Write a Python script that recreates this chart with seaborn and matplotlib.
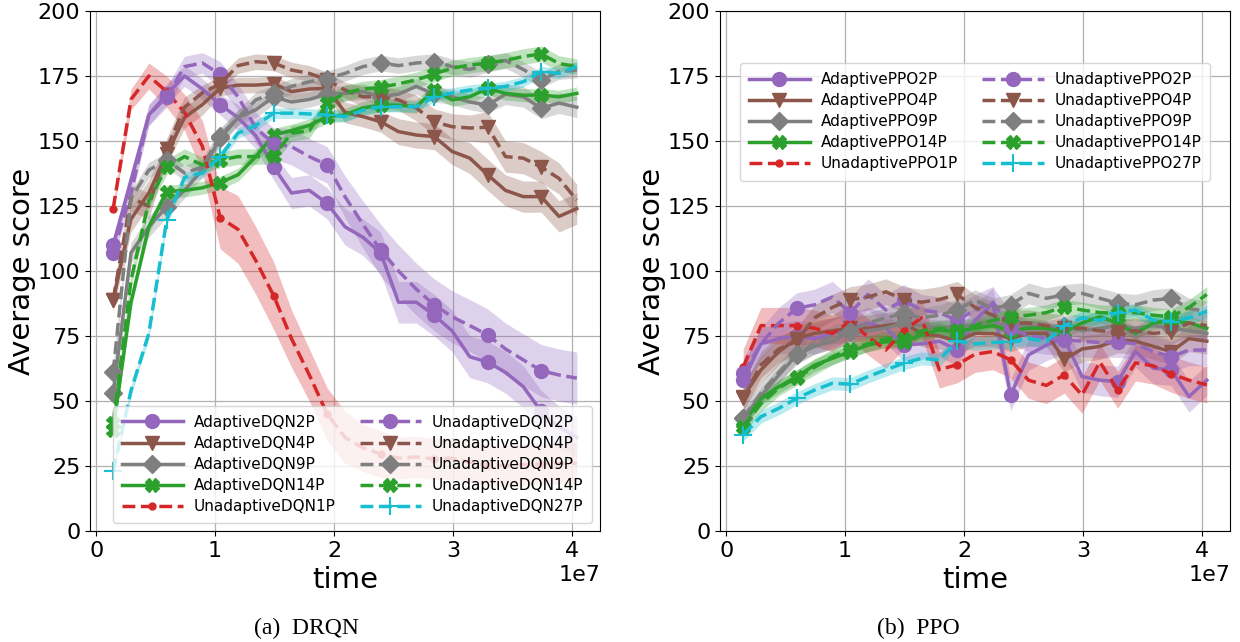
import numpy as np
import matplotlib
matplotlib.use("Agg")
import matplotlib.pyplot as plt
import seaborn as sns

# ---------------- data ----------------
time_m = [1.43, 2.93, 4.43, 5.93, 7.43, 8.93, 10.43, 11.93, 13.43, 14.93, 16.43, 17.93, 19.43,
          20.93, 22.43, 23.93, 25.43, 26.93, 28.43, 29.93, 31.43, 32.93, 34.43, 35.93, 37.43,
          38.93, 40.43]

# DRQN panel
dqn_A2 = [110, 135, 160, 168, 175, 170, 164, 159, 152, 140, 130, 131, 126, 117, 113, 107, 88, 88,
          83, 77, 67, 65, 61, 55.5, 46, 40, 36]
dqn_A4 = [89, 120, 130, 145, 159, 164, 170.3, 171.5, 171.5, 172, 169, 170, 170.3, 161, 159.4,
          157.4, 153.6, 152.3, 151.7, 146, 143.4, 137, 131, 128.6, 128.6, 121, 124]
dqn_A9 = [53, 107, 117, 124.7, 131, 139, 151, 159, 162, 167, 165, 166, 168, 168.3, 169, 167, 168,
          171, 168, 167, 165, 163.8, 168, 167, 162.6, 164.6, 163]
dqn_A14 = [39, 88, 117, 130.5, 131, 132, 134, 137, 144, 152.3, 154, 156, 159.4, 160, 162.7, 163.8,
           163.8, 163.2, 169.6, 165.8, 167, 170.3, 168.3, 167.6, 167.7, 167, 168.3]
dqn_U1 = [124, 166, 175, 169, 161, 148, 120.5, 116, 104, 90.5, 74, 60, 45, 36, 32, 29.6, 28, 28.5,
          27.7, 28, 26.5, 25.4, 25, 25.5, 25.8, 26, 26]
dqn_U2 = [107, 130, 160, 167, 178.6, 180, 175.6, 167, 155, 149, 147.8, 144, 140.8, 128.6, 118, 108,
          100, 93, 87, 82.4, 79, 75.4, 70, 65.8, 61.7, 60, 58.8]
dqn_U4 = [89, 128, 125, 147, 163, 168.5, 172, 179, 180.5, 180, 177.3, 176, 173.5, 169.6, 167, 167,
          165.8, 162.7, 157.4, 155.5, 155, 155.3, 144, 143.4, 140, 135.6, 127.3]
dqn_U9 = [61, 128, 138.8, 142.7, 137.7, 140, 152, 159, 165.8, 168.5, 171, 172.8, 174, 176, 178.6,
          180, 179, 180, 180.5, 178.6, 177.5, 179.5, 181, 177.5, 173.5, 176.7, 177.3]
dqn_U14 = [41.5, 96.5, 127, 140, 144, 140.8, 142.7, 144, 144, 144.2, 153, 154, 164.5, 168.5, 170,
           170.6, 172, 173.5, 175.8, 178, 179.2, 180, 181, 182.5, 183.5, 179.8, 178.6]
dqn_U27 = [23, 54, 76, 119.6, 136, 137.7, 144, 153, 156, 160.7, 160.7, 160.4, 160, 159.4, 161.8,
           163.2, 163.2, 163.2, 167, 168.5, 169.6, 170.3, 171, 172.8, 176.7, 176, 178.6]

# DRQN band half-widths
dqn_A2_sd = [3, 3, 4, 4, 4, 4, 4, 5, 5, 5, 6, 6, 6, 7, 7, 8, 8, 8, 8, 8, 8, 8, 8, 8, 8, 8, 8]
dqn_U2_sd = [3, 3, 4, 4, 4, 4, 5, 5, 6, 6, 7, 7, 7, 8, 9, 10, 10, 10, 10, 10, 10, 10, 10, 10, 10, 10, 10]
dqn_U1_sd = [2, 4, 5, 6, 7, 10, 12, 13, 13, 13, 11, 10, 10, 10, 9, 9, 8, 8, 8, 8, 8, 8, 8, 8, 8, 8, 8]
dqn_A4_sd = [4, 5, 5, 4, 4, 4, 3, 3, 3, 3, 3, 3, 3, 4, 4, 4, 5, 5, 5, 5, 6, 6, 6, 6, 6, 6, 6]
dqn_U4_sd = [4, 5, 5, 4, 4, 3, 3, 3, 3, 3, 3, 3, 3, 3, 4, 4, 4, 5, 5, 5, 5, 6, 6, 6, 6, 6, 6]
dqn_A9_sd = [3, 4, 4, 4, 3, 3, 3, 3, 3, 3, 3, 3, 3, 3, 3, 3, 3, 3, 3, 3, 3, 3, 4, 4, 4, 4, 4]
dqn_U9_sd = 3
dqn_A14_sd = 2.5
dqn_U14_sd = 3
dqn_U27_sd = 2

# PPO panel
ppo_A2 = [58, 72, 74, 75, 74, 76, 78, 80, 78, 71.5, 72, 73, 69.6, 81, 87.6, 52.3, 67.7, 71.5, 74,
          59.4, 58, 57.4, 69, 62.6, 62, 51.7, 58]
ppo_A4 = [51.5, 62, 69, 74, 76, 77, 78, 78, 79, 80, 76, 75, 73, 76, 76, 74, 76, 76, 66, 70, 71,
          73.5, 73, 71, 69, 74, 73]
ppo_A9 = [43.5, 52, 60, 67.7, 71, 73, 76.7, 77, 78, 80, 79, 78, 79, 79, 79, 80, 79, 78, 79, 77, 78,
          79, 78, 79, 78, 77, 76]
ppo_A14 = [41.4, 51, 55.5, 59.4, 63.8, 66.4, 69, 71.5, 72.8, 72.8, 75.4, 77.3, 76.7, 78, 79, 77, 78,
           78, 76.5, 80, 82.4, 80, 76, 80, 81, 80, 78]
ppo_U1 = [63, 79, 79, 79, 78, 76, 80.5, 74.7, 69.6, 77, 82, 62, 64, 68, 69, 65.8, 58, 56, 60, 52.3,
          65, 54.2, 64.7, 63.5, 60.4, 58, 56.2]
ppo_U2 = [60.6, 72, 80, 85.6, 87, 90, 84, 91, 85, 88.8, 85, 84, 81, 85, 88, 78, 75, 74, 73.5, 73,
          72.5, 72.8, 72, 69, 67, 69.6, 69.6]
ppo_U4 = [51, 64, 70, 73, 82, 86, 89, 90, 92, 89, 88, 89, 91, 86, 83, 80, 80, 79, 78, 78, 77, 76.7,
          77, 76, 76.7, 80, 79]
ppo_U9 = [43.5, 53, 61, 68, 72, 75, 77, 80, 82, 83.7, 82, 83, 85, 88.8, 85.6, 87, 91.4, 89.5, 90.8,
          91.4, 89.5, 87.6, 87, 88.8, 89.5, 85.6, 84.4]
ppo_U14 = [40, 49, 55, 59, 63, 67, 70, 72, 74, 74, 77, 78, 77.3, 79, 81, 82.4, 83, 84, 86.3, 85, 84,
           83.7, 84, 83, 82.4, 86, 91]
ppo_U27 = [37, 44, 47.2, 51, 54.2, 56.8, 56.5, 59.4, 62, 64.5, 66.4, 65.8, 73, 72, 72.5, 72.8, 74,
           73, 79, 82, 81, 84, 85, 81, 80.5, 82, 84.5]

ppo_sd = {"A2": 6, "A4": 5, "A9": 3, "A14": 2.5, "U1": 7, "U2": 6, "U4": 5, "U9": 4, "U14": 3, "U27": 2.5}

yticks = [0, 25, 50, 75, 100, 125, 150, 175, 200]
xticks = [0, 1e7, 2e7, 3e7, 4e7]

# ---------------- styles ----------------
C = {"2": "#9467bd", "4": "#8c564b", "9": "#7f7f7f", "14": "#2ca02c", "1": "#d62728", "27": "#17becf"}
MK = {"2": "o", "4": "v", "9": "D", "14": "X", "1": ".", "27": "+"}
MS = {"2": 10, "4": 10, "9": 9, "14": 10, "1": 10, "27": 13}

x = np.array(time_m) * 1e6

dqn_series = [
    ("AdaptiveDQN2P", dqn_A2, dqn_A2_sd, "2", "-"),
    ("AdaptiveDQN4P", dqn_A4, dqn_A4_sd, "4", "-"),
    ("AdaptiveDQN9P", dqn_A9, dqn_A9_sd, "9", "-"),
    ("AdaptiveDQN14P", dqn_A14, dqn_A14_sd, "14", "-"),
    ("UnadaptiveDQN1P", dqn_U1, dqn_U1_sd, "1", "--"),
    ("UnadaptiveDQN2P", dqn_U2, dqn_U2_sd, "2", "--"),
    ("UnadaptiveDQN4P", dqn_U4, dqn_U4_sd, "4", "--"),
    ("UnadaptiveDQN9P", dqn_U9, dqn_U9_sd, "9", "--"),
    ("UnadaptiveDQN14P", dqn_U14, dqn_U14_sd, "14", "--"),
    ("UnadaptiveDQN27P", dqn_U27, dqn_U27_sd, "27", "--"),
]
ppo_series = [
    ("AdaptivePPO2P", ppo_A2, ppo_sd["A2"], "2", "-"),
    ("AdaptivePPO4P", ppo_A4, ppo_sd["A4"], "4", "-"),
    ("AdaptivePPO9P", ppo_A9, ppo_sd["A9"], "9", "-"),
    ("AdaptivePPO14P", ppo_A14, ppo_sd["A14"], "14", "-"),
    ("UnadaptivePPO1P", ppo_U1, ppo_sd["U1"], "1", "--"),
    ("UnadaptivePPO2P", ppo_U2, ppo_sd["U2"], "2", "--"),
    ("UnadaptivePPO4P", ppo_U4, ppo_sd["U4"], "4", "--"),
    ("UnadaptivePPO9P", ppo_U9, ppo_sd["U9"], "9", "--"),
    ("UnadaptivePPO14P", ppo_U14, ppo_sd["U14"], "14", "--"),
    ("UnadaptivePPO27P", ppo_U27, ppo_sd["U27"], "27", "--"),
]

fig = plt.figure(figsize=(12.4, 6.42), dpi=100)
W, H = 1240, 642
ax1 = fig.add_axes([90 / W, 1 - 531 / H, 510 / W, 520 / H])
ax2 = fig.add_axes([720 / W, 1 - 531 / H, 510 / W, 520 / H])


def draw(ax, series):
    for label, vals, sd, key, ls in series:
        v = np.array(vals, dtype=float)
        s = np.array(sd, dtype=float) * np.ones_like(v)
        ax.fill_between(x, v - s, v + s, color=C[key], alpha=0.3, linewidth=0)
    for label, vals, sd, key, ls in series:
        sns.lineplot(x=x, y=vals, ax=ax, color=C[key], linestyle=ls, linewidth=2.5,
                     marker=MK[key], markevery=3, markersize=MS[key],
                     markeredgecolor=C[key], markeredgewidth=1.5 if key == "27" else 1.0,
                     label=label, errorbar=None)
    ax.set_ylim(0, 200)
    ax.set_yticks(yticks)
    ax.set_xticks(xticks)
    ax.grid(True, color="#b0b0b0", linewidth=0.9)
    ax.set_axisbelow(True)
    ax.tick_params(labelsize=16)
    ax.xaxis.get_offset_text().set_fontsize(16)
    ax.set_xlabel("time", fontsize=21)
    ax.set_ylabel("Average score", fontsize=21, labelpad=1)


draw(ax1, dqn_series)
draw(ax2, ppo_series)

leg_kw = dict(ncol=2, fontsize=11, handlelength=4, labelspacing=0.4, columnspacing=1.6,
              handletextpad=0.7, borderpad=0.6)
ax1.legend(loc="lower right", **leg_kw)
ax2.legend(loc="upper center", bbox_to_anchor=(0.5, 0.915), **leg_kw)

fig.text(306 / W, 1 - 628 / H, "(a)  DRQN", ha="center", va="center", fontsize=17,
         family="Liberation Serif")
fig.text(918 / W, 1 - 628 / H, "(b)  PPO", ha="center", va="center", fontsize=17,
         family="Liberation Serif")

fig.savefig("out.png", dpi=100)
